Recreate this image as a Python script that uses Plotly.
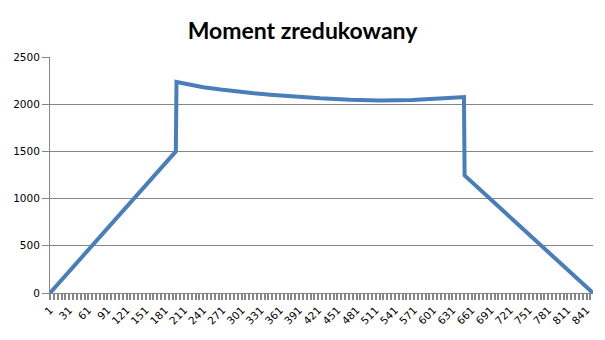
import plotly.graph_objects as go

# Category index along the beam (1..851) and reduced moment values
x_pos = [1, 198, 199, 220, 241, 268, 294, 320, 346, 372, 398, 424, 471, 518, 568, 610, 638, 649, 650, 851]
moment = [0, 1500, 2235, 2205, 2180, 2155, 2133, 2115, 2100, 2087, 2076, 2063, 2048, 2040, 2045, 2055, 2070, 2075, 1245, 0]

tick_vals = list(range(1, 851, 30))
tick_text = [str(v) for v in tick_vals]
y_ticks = [0, 500, 1000, 1500, 2000, 2500]

fig = go.Figure()
fig.add_trace(go.Scatter(
    x=x_pos, y=moment, mode="lines",
    line=dict(color="#4a7ebb", width=4),
    showlegend=False, hoverinfo="skip",
))

axis_gray = "#868686"
fig.update_layout(
    width=605, height=340,
    margin=dict(l=50, r=12, t=57, b=47),
    paper_bgcolor="white", plot_bgcolor="white",
    title=dict(text="<b>Moment zredukowany</b>", x=0.5, xanchor="center",
               xref="container", yref="container", y=(340 - 31) / 340, yanchor="middle",
               font=dict(family="Lato", size=23, color="black")),
    xaxis=dict(
        range=[1, 851], tickmode="array", tickvals=tick_vals, ticktext=tick_text,
        tickangle=-45, tickfont=dict(family="DejaVu Sans", size=10.5, color="black"),
        showgrid=False, zeroline=False, showline=True, linecolor=axis_gray, linewidth=1,
        ticks="outside", ticklen=6, tickwidth=2, tickcolor=axis_gray,
        minor=dict(ticks="outside", dtick=6, tick0=1, ticklen=6, tickwidth=2, tickcolor=axis_gray),
    ),
    yaxis=dict(
        range=[0, 2500], tickmode="array", tickvals=y_ticks,
        tickfont=dict(family="DejaVu Sans", size=10.5, color="black"),
        showgrid=True, gridcolor=axis_gray, gridwidth=1,
        zeroline=False, showline=True, linecolor=axis_gray, linewidth=1,
        ticks="outside", ticklen=7, tickcolor=axis_gray,
    ),
)

fig.write_html("out.html")
